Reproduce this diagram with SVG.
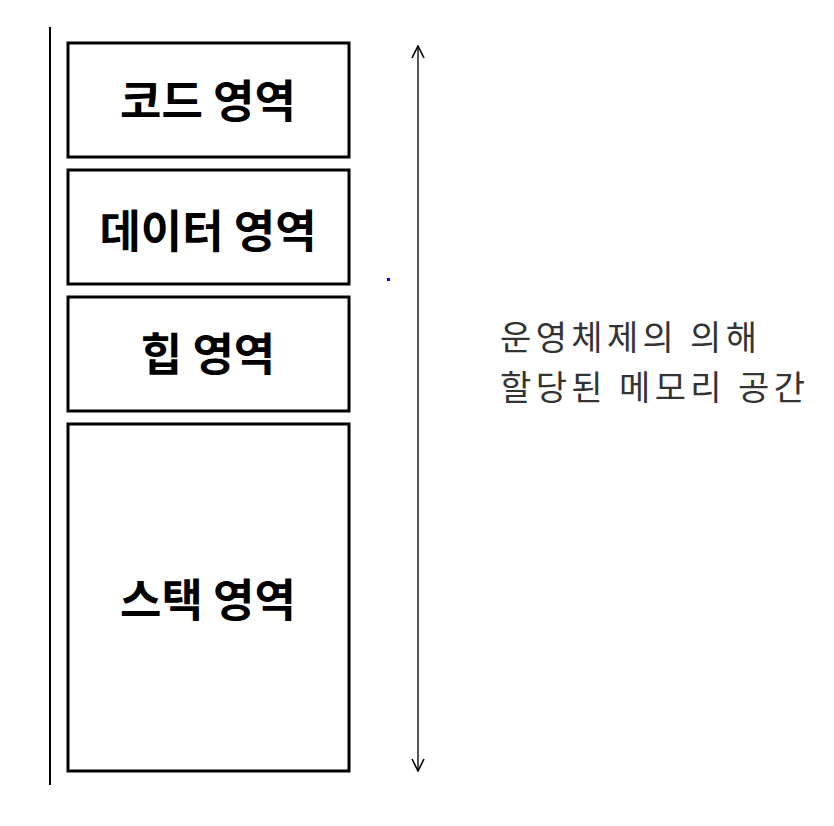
<svg xmlns="http://www.w3.org/2000/svg" width="834" height="826" viewBox="0 0 834 826">
<style>
.box{fill:#fff;stroke:#000;stroke-width:3}
.lbl{font-family:"Noto Sans CJK KR","Noto Sans",sans-serif;font-weight:bold;font-size:45px;fill:#000;text-anchor:middle}
.note{font-family:"Noto Sans CJK KR","Noto Sans",sans-serif;font-size:34px;fill:#333}
</style>
<defs>
<marker id="ah" viewBox="0 0 14 14" refX="13" refY="7" markerWidth="14" markerHeight="14" markerUnits="userSpaceOnUse" orient="auto-start-reverse">
<path d="M1,1 L13,7 L1,13" fill="none" stroke="#000" stroke-width="1.6"/>
</marker>
</defs>
<rect width="834" height="826" fill="#fff"/>
<line x1="50" y1="27" x2="50" y2="785" stroke="#000" stroke-width="2"/>
<g id="code"><rect class="box" x="68" y="43" width="281" height="114"/><text class="lbl" x="208" y="118">코드 영역</text></g>
<g id="data"><rect class="box" x="68" y="170" width="281" height="114"/><text class="lbl" x="208" y="248">데이터 영역</text></g>
<g id="heap"><rect class="box" x="68" y="297" width="281" height="114"/><text class="lbl" x="208" y="371">힙 영역</text></g>
<g id="stack"><rect class="box" x="68" y="424" width="281" height="347"/><text class="lbl" x="208" y="617">스택 영역</text></g>
<g id="connectors">
<line x1="418" y1="46" x2="418" y2="771" stroke="#555" stroke-width="2" marker-start="url(#ah)" marker-end="url(#ah)"/>
</g>
<rect x="387" y="278" width="3" height="3" fill="#00f"/>
<g id="note"><text class="note" x="500" y="350" textLength="257" lengthAdjust="spacing">운영체제의 의해</text><text class="note" x="500" y="400" textLength="305" lengthAdjust="spacing">할당된 메모리 공간</text></g>
</svg>
